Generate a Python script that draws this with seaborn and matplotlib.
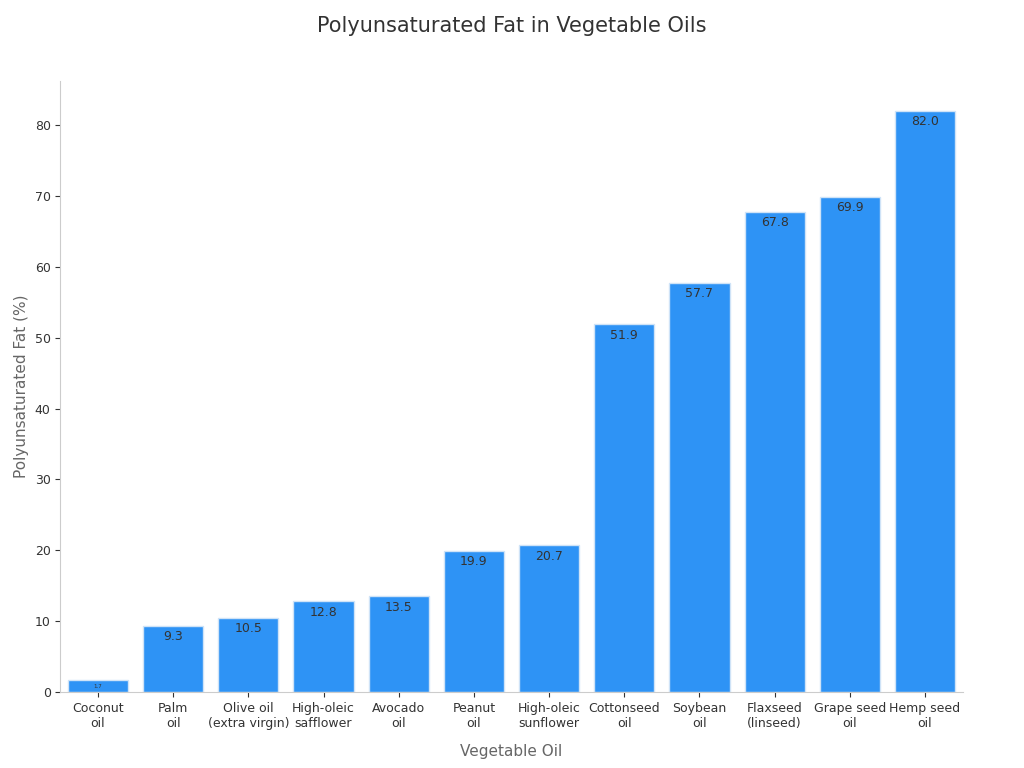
import matplotlib
matplotlib.use("Agg")
import matplotlib.pyplot as plt
import seaborn as sns
import pandas as pd

oils = ["Coconut\noil", "Palm\noil", "Olive oil\n(extra virgin)", "High-oleic\nsafflower",
        "Avocado\noil", "Peanut\noil", "High-oleic\nsunflower", "Cottonseed\noil",
        "Soybean\noil", "Flaxseed\n(linseed)", "Grape seed\noil", "Hemp seed\noil"]
pufa = [1.7, 9.3, 10.5, 12.8, 13.5, 19.9, 20.7, 51.9, 57.7, 67.8, 69.9, 82.0]

df = pd.DataFrame({"oil": oils, "pufa": pufa})

fig, ax = plt.subplots(figsize=(10.24, 7.68), dpi=100)
sns.barplot(data=df, x="oil", y="pufa", color="#2E93F5", saturation=1,
            width=0.8, edgecolor="#cfe3f7", linewidth=1, ax=ax)

for i, v in enumerate(pufa):
    fs = 4 if v < 3 else 9
    ax.text(i, v - 0.6, f"{v:.1f}", ha="center", va="top", fontsize=fs, color="#333333")

ax.set_xlim(-0.5, 11.5)
ax.set_ylim(0, 86.3)
ax.set_title("Polyunsaturated Fat in Vegetable Oils", fontsize=15, color="#333333", pad=35)
ax.set_xlabel("Vegetable Oil", fontsize=11, color="#666666", labelpad=10)
ax.set_ylabel("Polyunsaturated Fat (%)", fontsize=11, color="#666666")
ax.tick_params(labelsize=9, colors="#333333")
for s in ["top", "right"]:
    ax.spines[s].set_visible(False)
for s in ["left", "bottom"]:
    ax.spines[s].set_color("#cccccc")

fig.subplots_adjust(left=0.059, right=0.94, top=0.895, bottom=0.099)
fig.savefig("out.png", dpi=100)
